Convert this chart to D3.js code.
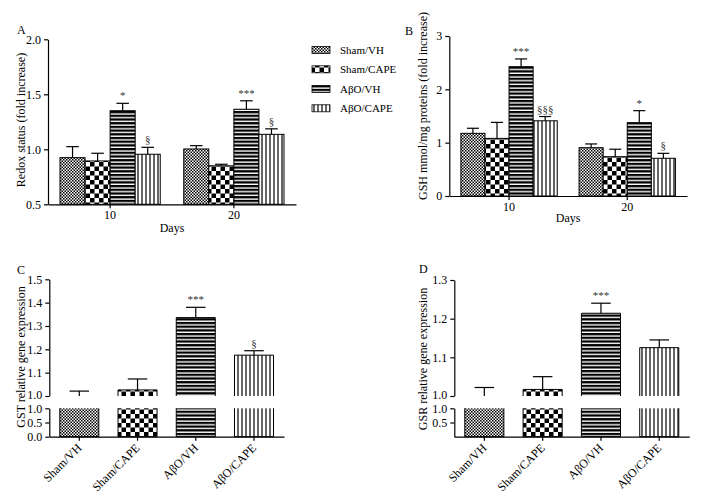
<!DOCTYPE html>
<html>
<head>
<meta charset="utf-8">
<script src="https://cdnjs.cloudflare.com/ajax/libs/d3/7.8.5/d3.min.js"></script>
<style>
body{margin:0;background:#fff}
svg text{font-family:"Liberation Serif","Times New Roman",serif;fill:#000}
.axis path,.axis line{stroke:#000;stroke-width:1.2}
.axis text{font-size:12px;font-family:"Liberation Serif","Times New Roman",serif}
</style>
</head>
<body>
<script>
// data
var series = ["Sham/VH", "Sham/CAPE", "A\u03B2O/VH", "A\u03B2O/CAPE"];
var days = ["10", "20"];

// panel A: redox status, one row per day
var redoxMean = [[0.924, 0.894, 1.351, 0.955], [1.003, 0.850, 1.364, 1.136]];
var redoxErr  = [[0.100, 0.070, 0.067, 0.063], [0.030, 0.014, 0.077, 0.050]];
var redoxSig  = [["", "", "*", "\u00A7"], ["", "", "***", "\u00A7"]];
var redoxTicks = [0.5, 1.0, 1.5, 2.0];

// panel B: GSH
var gshMean = [[1.175, 1.080, 2.425, 1.410], [0.906, 0.737, 1.375, 0.707]];
var gshErr  = [[0.095, 0.300, 0.145, 0.080], [0.070, 0.140, 0.225, 0.093]];
var gshSig  = [["", "", "***", "\u00A7\u00A7\u00A7"], ["", "", "*", "\u00A7"]];
var gshTicks = [0, 1, 2, 3];

// panel C: GST expression
var gstMean = [1.000, 1.026, 1.336, 1.175];
var gstErr  = [0.021, 0.047, 0.044, 0.019];
var gstSig  = ["", "", "***", "\u00A7"];
var gstTicksUp = [1.0, 1.1, 1.2, 1.3, 1.4, 1.5];
var gstTicksLow = [0.0, 0.5, 1.0];

// panel D: GSR expression
var gsrMean = [1.000, 1.017, 1.214, 1.125];
var gsrErr  = [0.022, 0.033, 0.026, 0.020];
var gsrSig  = ["", "", "***", ""];
var gsrTicksUp = [1.0, 1.1, 1.2, 1.3];
var gsrTicksLow = [0.5, 1.0];

var svg = d3.select("body").append("svg").attr("width", 720).attr("height", 500);
var defs = svg.append("defs");

// fill patterns
function pattern(id, w, h, build) {
  var p = defs.append("pattern").attr("id", id).attr("patternUnits", "userSpaceOnUse")
    .attr("width", w).attr("height", h);
  p.append("rect").attr("width", w).attr("height", h).attr("fill", "#fff");
  build(p);
}
pattern("p0", 3, 3, function(p){
  p.append("rect").attr("width", 1.5).attr("height", 1.5).attr("fill", "#000");
  p.append("rect").attr("x", 1.5).attr("y", 1.5).attr("width", 1.5).attr("height", 1.5).attr("fill", "#000");
});
pattern("p1", 9, 9, function(p){
  p.append("rect").attr("width", 4.5).attr("height", 4.5).attr("fill", "#000");
  p.append("rect").attr("x", 4.5).attr("y", 4.5).attr("width", 4.5).attr("height", 4.5).attr("fill", "#000");
});
pattern("p2", 4, 3.7, function(p){
  p.append("rect").attr("width", 4).attr("height", 2.3).attr("fill", "#000");
});
pattern("p3", 4, 4, function(p){
  p.append("rect").attr("x", 1.4).attr("width", 1.2).attr("height", 4).attr("fill", "#000");
});
var fills = ["url(#p0)", "url(#p1)", "url(#p2)", "url(#p3)"];

function errorBar(g, cx, w, yTop, yErr) {
  g.append("line").attr("x1", cx).attr("x2", cx).attr("y1", yTop).attr("y2", yErr)
    .attr("stroke", "#000").attr("stroke-width", 1.2);
  g.append("line").attr("x1", cx - w / 4).attr("x2", cx + w / 4).attr("y1", yErr).attr("y2", yErr)
    .attr("stroke", "#000").attr("stroke-width", 1.2);
}
function sigText(g, cx, y, s) {
  if (!s) return;
  g.append("text").attr("x", cx).attr("y", y - 4).attr("text-anchor", "middle")
    .attr("font-size", "11px").style("fill", "#333").text(s);
}
function yTitle(x, y, t) {
  svg.append("text").attr("transform", "translate(" + x + "," + y + ") rotate(-90)")
    .attr("text-anchor", "middle").attr("dy", "0.35em").attr("font-size", "12px").text(t);
}
function panelLabel(x, y, t) {
  svg.append("text").attr("x", x).attr("y", y).attr("font-size", "12px").text(t);
}

// grouped panels (A and B)
function grouped(o) {
  var x = d3.scaleBand().domain(days).range([o.x0, o.x1]).paddingInner(o.pi).paddingOuter(o.po);
  var xs = d3.scaleBand().domain(series).range([0, x.bandwidth()]);
  var y = d3.scaleLinear().domain(o.dom).range([o.y0, o.y1]);
  var g = svg.append("g");
  days.forEach(function(d, di) {
    series.forEach(function(s, si) {
      var bx = x(d) + xs(s), w = xs.bandwidth();
      var v = o.mean[di][si];
      g.append("rect").attr("x", bx).attr("y", y(v)).attr("width", w)
        .attr("height", y(o.dom[0]) - y(v)).attr("fill", fills[si])
        .attr("stroke", "#000").attr("stroke-width", 1);
      errorBar(g, bx + w / 2, w, y(v), y(v + o.err[di][si]));
      sigText(g, bx + w / 2, y(v + o.err[di][si]), o.sig[di][si]);
    });
  });
  svg.append("g").attr("class", "axis").attr("transform", "translate(" + o.x0 + ",0)")
    .call(d3.axisLeft(y).tickValues(o.ticks).tickFormat(o.fmt).tickSize(4).tickSizeOuter(0));
  svg.append("g").attr("class", "axis").attr("transform", "translate(0," + o.y0 + ")")
    .call(d3.axisBottom(x).tickSize(4).tickSizeOuter(0).tickPadding(2));
  svg.append("text").attr("x", (x("10") + x("20") + x.bandwidth()) / 2).attr("y", o.y0 + o.daysDy)
    .attr("text-anchor", "middle").attr("font-size", "12px").text("Days");
}

grouped({x0: 48, x1: 296, pi: 0.19, po: 0.097, dom: [0.5, 2.0], y0: 204.3, y1: 39.3,
  mean: redoxMean, err: redoxErr, sig: redoxSig, ticks: redoxTicks, fmt: d3.format(".1f"), daysDy: 28});
grouped({x0: 449.3, x1: 687, pi: 0.185, po: 0.098, dom: [0, 3], y0: 196, y1: 36,
  mean: gshMean, err: gshErr, sig: gshSig, ticks: gshTicks, fmt: d3.format("d"), daysDy: 26});

// broken-axis panels (C and D)
function broken(o) {
  var x = d3.scaleBand().domain(series).range([o.x0, o.x1]).paddingInner(0.33).paddingOuter(0.18);
  var yU = d3.scaleLinear().domain(o.domUp).range([396, o.yTop]);
  var yL = d3.scaleLinear().domain([0, 1]).range([436.7, 408.3]);
  var g = svg.append("g");
  series.forEach(function(s, si) {
    var bx = x(s), w = x.bandwidth(), v = o.mean[si];
    // lower part
    g.append("rect").attr("x", bx).attr("y", yL(1)).attr("width", w).attr("height", yL(0) - yL(1))
      .attr("fill", fills[si]);
    g.append("path").attr("d", "M" + bx + "," + yL(1) + "V" + yL(0) + "H" + (bx + w) + "V" + yL(1))
      .attr("fill", "none").attr("stroke", "#000");
    // upper part
    if (v > o.domUp[0]) {
      g.append("rect").attr("x", bx).attr("y", yU(v)).attr("width", w).attr("height", yU(o.domUp[0]) - yU(v))
        .attr("fill", fills[si]);
      g.append("path").attr("d", "M" + bx + "," + yU(o.domUp[0]) + "V" + yU(v) + "H" + (bx + w) + "V" + yU(o.domUp[0]))
        .attr("fill", "none").attr("stroke", "#000");
    }
    errorBar(g, bx + w / 2, w, yU(v), yU(v + o.err[si]));
    sigText(g, bx + w / 2, yU(v + o.err[si]), o.sig[si]);
  });
  var up = svg.append("g").attr("class", "axis").attr("transform", "translate(" + o.x0 + ",0)")
    .call(d3.axisLeft(yU).tickValues(o.ticksUp).tickFormat(d3.format(".1f")).tickSize(4).tickSizeOuter(0));
  var low = svg.append("g").attr("class", "axis").attr("transform", "translate(" + o.x0 + ",0)")
    .call(d3.axisLeft(yL).tickValues(o.ticksLow).tickFormat(d3.format(".1f")).tickSize(4).tickSizeOuter(0));
  // the two 1.0 labels sit close together at the break
  up.selectAll("text").attr("font-size", "10.5px");
  low.selectAll("text").attr("font-size", "10.5px");
  up.selectAll(".tick").filter(function(d){ return d === o.domUp[0]; }).select("text").attr("dy", "0.2em");
  var xa = svg.append("g").attr("class", "axis").attr("transform", "translate(0,436.7)")
    .call(d3.axisBottom(x).tickSize(4).tickSizeOuter(0));
  xa.selectAll("text").attr("font-size", "11px").attr("text-anchor", "end")
    .attr("dy", null).attr("y", 0)
    .attr("transform", "translate(3,12) rotate(-45)");
}

broken({x0: 49.3, x1: 284, domUp: [1.0, 1.5], yTop: 279.3, mean: gstMean, err: gstErr, sig: gstSig,
  ticksUp: gstTicksUp, ticksLow: gstTicksLow});
broken({x0: 454.3, x1: 689.3, domUp: [1.0, 1.3], yTop: 280, mean: gsrMean, err: gsrErr, sig: gsrSig,
  ticksUp: gsrTicksUp, ticksLow: gsrTicksLow});

// titles and panel letters
yTitle(21, 120, "Redox status (fold increase)");
yTitle(423, 106, "GSH mmol/mg proteins (fold increase)");
yTitle(21, 357, "GST relative gene expression");
yTitle(423, 359, "GSR relative gene expression");
panelLabel(17, 34, "A");
panelLabel(405, 35, "B");
panelLabel(17, 274, "C");
panelLabel(419, 273, "D");

// legend
var leg = svg.append("g");
var legY = [50, 69.3, 89, 108.3];
series.forEach(function(s, i) {
  leg.append("rect").attr("x", 312).attr("y", legY[i] - 3.5).attr("width", 18).attr("height", 7)
    .attr("fill", fills[i]).attr("stroke", "#000").attr("stroke-width", 0.8);
  leg.append("text").attr("x", 340).attr("y", legY[i]).attr("dy", "0.35em")
    .attr("font-size", "11px").text(s);
});
</script>
</body>
</html>
